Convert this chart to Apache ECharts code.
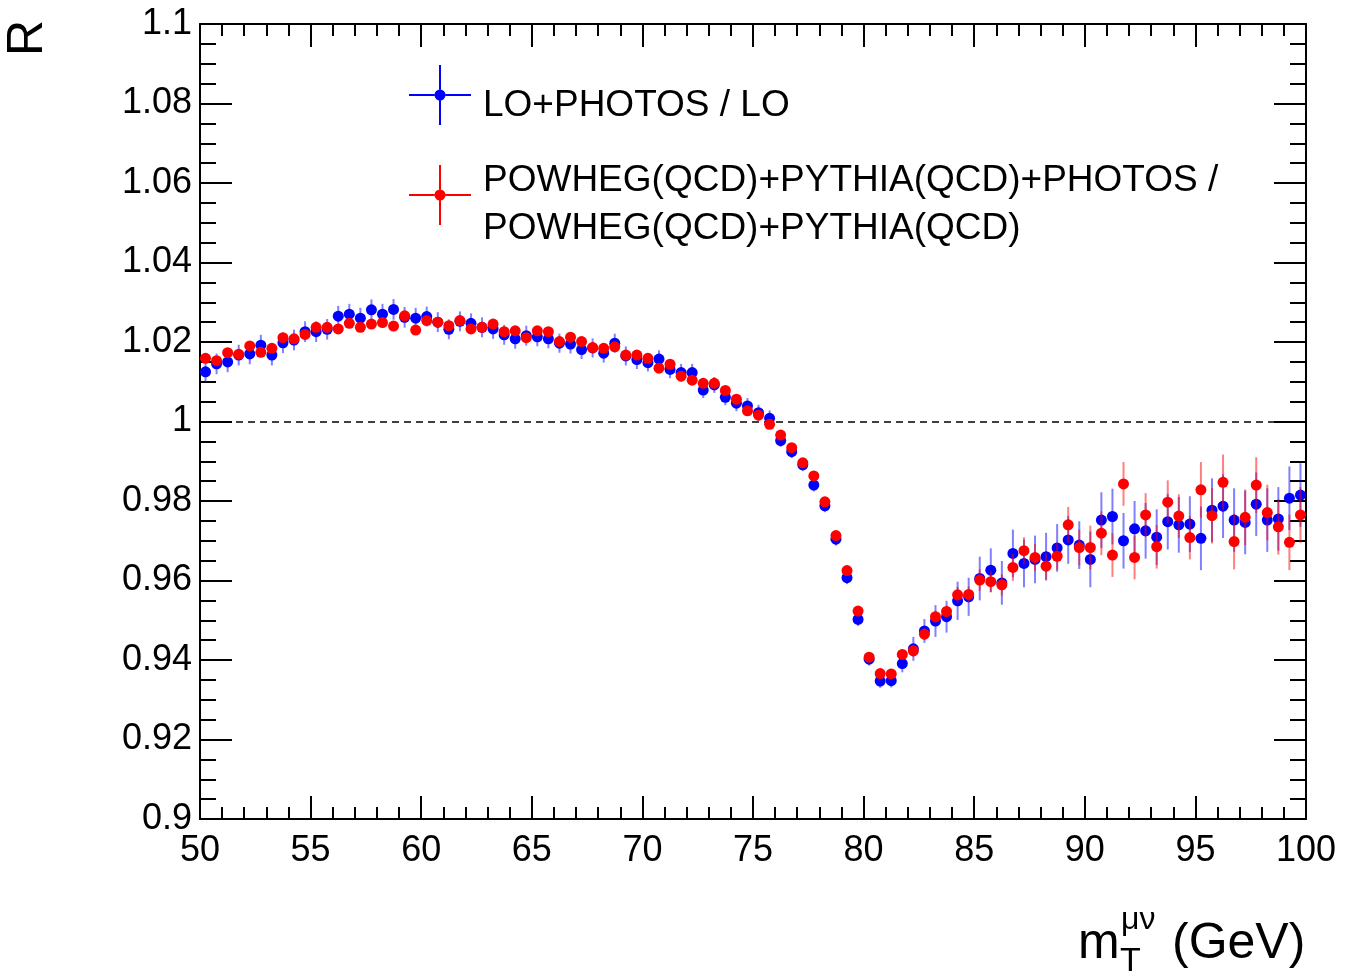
<!DOCTYPE html>
<html>
<head>
<meta charset="utf-8">
<script src="https://cdn.jsdelivr.net/npm/echarts@6/dist/echarts.min.js"></script>
<style>
  html, body { margin: 0; padding: 0; background: #fff; }
  #chart { width: 1345px; height: 972px; }
</style>
</head>
<body>
<div id="chart"></div>
<script>
// bin centres of m_T (GeV), 0.5 GeV bins
var mT = [
  50.25, 50.75, 51.25, 51.75, 52.25, 52.75, 53.25, 53.75, 54.25, 54.75,
  55.25, 55.75, 56.25, 56.75, 57.25, 57.75, 58.25, 58.75, 59.25, 59.75,
  60.25, 60.75, 61.25, 61.75, 62.25, 62.75, 63.25, 63.75, 64.25, 64.75,
  65.25, 65.75, 66.25, 66.75, 67.25, 67.75, 68.25, 68.75, 69.25, 69.75,
  70.25, 70.75, 71.25, 71.75, 72.25, 72.75, 73.25, 73.75, 74.25, 74.75,
  75.25, 75.75, 76.25, 76.75, 77.25, 77.75, 78.25, 78.75, 79.25, 79.75,
  80.25, 80.75, 81.25, 81.75, 82.25, 82.75, 83.25, 83.75, 84.25, 84.75,
  85.25, 85.75, 86.25, 86.75, 87.25, 87.75, 88.25, 88.75, 89.25, 89.75,
  90.25, 90.75, 91.25, 91.75, 92.25, 92.75, 93.25, 93.75, 94.25, 94.75,
  95.25, 95.75, 96.25, 96.75, 97.25, 97.75, 98.25, 98.75, 99.25, 99.75
];

// LO+PHOTOS / LO
var loRatio = [
  1.0125, 1.0145, 1.0150, 1.0167, 1.0170, 1.0192, 1.0167, 1.0198, 1.0205, 1.0226,
  1.0226, 1.0232, 1.0265, 1.0270, 1.0260, 1.0281, 1.0270, 1.0282, 1.0262, 1.0260,
  1.0264, 1.0250, 1.0232, 1.0252, 1.0247, 1.0237, 1.0233, 1.0218, 1.0208, 1.0216,
  1.0213, 1.0208, 1.0197, 1.0195, 1.0181, 1.0185, 1.0172, 1.0197, 1.0165, 1.0156,
  1.0148, 1.0157, 1.0131, 1.0123, 1.0123, 1.0079, 1.0092, 1.0061, 1.0046, 1.0039,
  1.0022, 1.0008, 0.9952, 0.9924, 0.9891, 0.9840, 0.9788, 0.9704, 0.9607, 0.9502,
  0.9402, 0.9347, 0.9348, 0.9391, 0.9428, 0.9473, 0.9498, 0.9509, 0.9549, 0.9559,
  0.9605, 0.9626, 0.9594, 0.9668, 0.9643, 0.9653, 0.9660, 0.9682, 0.9702, 0.9689,
  0.9653, 0.9752, 0.9761, 0.9700, 0.9730, 0.9725, 0.9709, 0.9748, 0.9740, 0.9742,
  0.9706, 0.9777, 0.9787, 0.9752, 0.9746, 0.9792, 0.9752, 0.9755, 0.9807, 0.9815
];
var loErr = [
  0.0026, 0.0026, 0.0026, 0.0026, 0.0026, 0.0026, 0.0026, 0.0026, 0.0026, 0.0026,
  0.0026, 0.0026, 0.0026, 0.0026, 0.0026, 0.0026, 0.0026, 0.0026, 0.0026, 0.0026,
  0.0025, 0.0025, 0.0025, 0.0025, 0.0025, 0.0025, 0.0025, 0.0025, 0.0025, 0.0025,
  0.0024, 0.0024, 0.0024, 0.0024, 0.0024, 0.0024, 0.0024, 0.0024, 0.0024, 0.0024,
  0.0022, 0.0022, 0.0022, 0.0022, 0.0022, 0.0020, 0.0020, 0.0020, 0.0020, 0.0020,
  0.0020, 0.0020, 0.0016, 0.0016, 0.0016, 0.0016, 0.0016, 0.0016, 0.0016, 0.0016,
  0.0016, 0.0017, 0.0017, 0.0022, 0.0030, 0.0030, 0.0040, 0.0040, 0.0048, 0.0048,
  0.0055, 0.0055, 0.0055, 0.0060, 0.0060, 0.0060, 0.0060, 0.0060, 0.0060, 0.0060,
  0.0070, 0.0070, 0.0070, 0.0070, 0.0070, 0.0070, 0.0070, 0.0070, 0.0070, 0.0070,
  0.0080, 0.0080, 0.0080, 0.0080, 0.0080, 0.0080, 0.0080, 0.0080, 0.0080, 0.0080
];

// POWHEG(QCD)+PYTHIA(QCD)+PHOTOS / POWHEG(QCD)+PYTHIA(QCD)
var pwgRatio = [
  1.0159, 1.0153, 1.0173, 1.0169, 1.0190, 1.0174, 1.0184, 1.0211, 1.0208, 1.0219,
  1.0237, 1.0237, 1.0233, 1.0247, 1.0237, 1.0245, 1.0249, 1.0240, 1.0266, 1.0230,
  1.0254, 1.0250, 1.0241, 1.0254, 1.0233, 1.0237, 1.0245, 1.0226, 1.0228, 1.0211,
  1.0228, 1.0226, 1.0201, 1.0212, 1.0201, 1.0186, 1.0184, 1.0188, 1.0167, 1.0167,
  1.0159, 1.0134, 1.0144, 1.0114, 1.0104, 1.0096, 1.0096, 1.0078, 1.0056, 1.0027,
  1.0016, 0.9993, 0.9966, 0.9934, 0.9896, 0.9863, 0.9798, 0.9713, 0.9625, 0.9523,
  0.9407, 0.9366, 0.9365, 0.9414, 0.9423, 0.9465, 0.9509, 0.9522, 0.9564, 0.9565,
  0.9601, 0.9597, 0.9589, 0.9633, 0.9675, 0.9658, 0.9636, 0.9661, 0.9740, 0.9683,
  0.9683, 0.9719, 0.9664, 0.9843, 0.9658, 0.9765, 0.9685, 0.9797, 0.9762, 0.9708,
  0.9828, 0.9763, 0.9847, 0.9698, 0.9759, 0.9840, 0.9771, 0.9735, 0.9696, 0.9765
];
var pwgErr = [
  0.0010, 0.0010, 0.0010, 0.0010, 0.0010, 0.0010, 0.0010, 0.0010, 0.0010, 0.0010,
  0.0010, 0.0010, 0.0010, 0.0010, 0.0010, 0.0010, 0.0010, 0.0010, 0.0010, 0.0010,
  0.0010, 0.0010, 0.0010, 0.0010, 0.0010, 0.0010, 0.0010, 0.0010, 0.0010, 0.0010,
  0.0010, 0.0010, 0.0010, 0.0010, 0.0010, 0.0010, 0.0010, 0.0010, 0.0010, 0.0010,
  0.0010, 0.0010, 0.0010, 0.0010, 0.0010, 0.0010, 0.0010, 0.0010, 0.0010, 0.0010,
  0.0010, 0.0010, 0.0010, 0.0010, 0.0010, 0.0010, 0.0010, 0.0010, 0.0010, 0.0010,
  0.0012, 0.0012, 0.0012, 0.0012, 0.0015, 0.0015, 0.0015, 0.0015, 0.0020, 0.0020,
  0.0027, 0.0027, 0.0027, 0.0034, 0.0034, 0.0034, 0.0034, 0.0034, 0.0045, 0.0045,
  0.0055, 0.0055, 0.0055, 0.0055, 0.0055, 0.0055, 0.0055, 0.0055, 0.0055, 0.0055,
  0.0070, 0.0070, 0.0070, 0.0070, 0.0070, 0.0070, 0.0070, 0.0070, 0.0070, 0.0070
];

var referenceLevel = 1;

var loName = 'LO+PHOTOS / LO';
var pwgName = 'POWHEG(QCD)+PYTHIA(QCD)+PHOTOS / POWHEG(QCD)+PYTHIA(QCD)';

var FONT = '"Liberation Sans", Arial, Helvetica, sans-serif';

function points(vals) {
  return mT.map(function (x, i) { return [x, vals[i]]; });
}
function withErr(vals, errs) {
  return mT.map(function (x, i) { return [x, vals[i], errs[i]]; });
}
function errBars(color) {
  return function (params, api) {
    var x = api.value(0), y = api.value(1), e = api.value(2);
    var hi = api.coord([x, y + e]);
    var lo = api.coord([x, y - e]);
    return {
      type: 'line',
      shape: { x1: hi[0], y1: hi[1], x2: lo[0], y2: lo[1] },
      style: { stroke: color, lineWidth: 2 }
    };
  };
}

// marker with error cross, root style
var crossIcon = 'path://M0,29L25.5,29L25.5,31L0,31Z' +
  'M36.5,29L62,29L62,31L36.5,31Z' +
  'M30,0L32,0L32,24.5L30,24.5Z' +
  'M30,35.5L32,35.5L32,60L30,60Z' +
  'M25.5,30A5.5,5.5,0,1,1,36.5,30A5.5,5.5,0,1,1,25.5,30Z';

function xAxisCfg(pos) {
  return {
    type: 'value', position: pos, min: 50, max: 100, interval: 5,
    axisLine: { show: true, onZero: false, lineStyle: { color: '#000', width: 2 } },
    axisTick: { show: true, inside: true, length: 23, lineStyle: { color: '#000', width: 2 } },
    minorTick: { show: true, splitNumber: 5, length: 12, lineStyle: { color: '#000', width: 2 } },
    splitLine: { show: false },
    axisLabel: {
      show: pos === 'bottom', fontSize: 36, color: '#000', fontFamily: FONT, margin: 14,
      showMinLabel: true, showMaxLabel: true
    }
  };
}
function yAxisCfg(pos) {
  return {
    type: 'value', position: pos, min: 0.9, max: 1.1, interval: 0.02,
    axisLine: { show: true, onZero: false, lineStyle: { color: '#000', width: 2 } },
    axisTick: { show: true, inside: true, length: 32, lineStyle: { color: '#000', width: 2 } },
    minorTick: { show: true, splitNumber: 4, length: 16, lineStyle: { color: '#000', width: 2 } },
    splitLine: { show: false },
    axisLabel: {
      show: pos === 'left', fontSize: 36, color: '#000', fontFamily: FONT, margin: 8,
      showMinLabel: true, showMaxLabel: true,
      formatter: function (v) { return String(+v.toFixed(3)); }
    }
  };
}

var legendBase = {
  orient: 'vertical', padding: 0, itemWidth: 62, itemHeight: 60,
  selectedMode: false
};
var legendText = { fontSize: 37, color: '#000', fontFamily: FONT, padding: [0, 0, 0, 7] };

var chart = echarts.init(document.getElementById('chart'), null, { renderer: 'canvas' });
chart.setOption({
  animation: false,
  backgroundColor: '#fff',
  textStyle: { fontFamily: FONT },
  grid: { left: 200, right: 39, top: 24, bottom: 153, containLabel: false },
  xAxis: [xAxisCfg('bottom'), xAxisCfg('top')],
  yAxis: [yAxisCfg('left'), yAxisCfg('right')],
  legend: [
    Object.assign({}, legendBase, {
      left: 409, top: 65,
      data: [{ name: loName, icon: crossIcon }],
      formatter: function (n) { return '{s| }\n{t|' + n + '}'; },
      textStyle: Object.assign({}, legendText, {
        rich: {
          s: { fontSize: 10, lineHeight: 22 },
          t: { fontSize: 37, lineHeight: 40, color: '#000', fontFamily: FONT }
        }
      })
    }),
    Object.assign({}, legendBase, {
      left: 409, top: 142,
      data: [{ name: pwgName, icon: crossIcon }],
      formatter: function (n) {
        var parts = n.split(' / ');
        return '{s| }\n{t|' + parts[0] + ' /}\n{t|' + parts[1] + '}';
      },
      textStyle: Object.assign({}, legendText, {
        rich: {
          s: { fontSize: 10, lineHeight: 20 },
          t: { fontSize: 37, lineHeight: 48, color: '#000', fontFamily: FONT }
        }
      })
    })
  ],
  graphic: [
    { type: 'text', x: 28, y: 38, rotation: Math.PI / 2,
      style: { text: 'R', font: '50px ' + FONT, fill: '#000', textAlign: 'center', textVerticalAlign: 'middle' } },
    { type: 'text', x: 1078, y: 944,
      style: { text: 'm', font: '50px ' + FONT, fill: '#000', textAlign: 'left', textVerticalAlign: 'middle' } },
    { type: 'text', x: 1121, y: 920,
      style: { text: 'μν', font: '32px ' + FONT, fill: '#000', textAlign: 'left', textVerticalAlign: 'middle' } },
    { type: 'text', x: 1120, y: 962,
      style: { text: 'T', font: '34px ' + FONT, fill: '#000', textAlign: 'left', textVerticalAlign: 'middle' } },
    { type: 'text', x: 1172, y: 944,
      style: { text: '(GeV)', font: '50px ' + FONT, fill: '#000', textAlign: 'left', textVerticalAlign: 'middle' } }
  ],
  series: [
    {
      type: 'custom', name: 'loErr', z: 2, silent: true,
      renderItem: errBars('rgba(0,0,255,0.5)'),
      encode: { x: 0, y: 1 },
      data: withErr(loRatio, loErr)
    },
    {
      type: 'scatter', name: loName, z: 3,
      symbol: 'circle', symbolSize: 11,
      itemStyle: { color: '#0000ff', opacity: 1 },
      data: points(loRatio),
      markLine: {
        silent: true, symbol: ['none', 'none'], label: { show: false },
        lineStyle: { color: '#000', type: [7, 5], width: 1.5 },
        data: [{ yAxis: referenceLevel }]
      }
    },
    {
      type: 'custom', name: 'pwgErr', z: 4, silent: true,
      renderItem: errBars('rgba(255,0,0,0.5)'),
      encode: { x: 0, y: 1 },
      data: withErr(pwgRatio, pwgErr)
    },
    {
      type: 'scatter', name: pwgName, z: 5,
      symbol: 'circle', symbolSize: 11,
      itemStyle: { color: '#ff0000', opacity: 1 },
      data: points(pwgRatio)
    }
  ]
});
window.addEventListener('resize', function () { chart.resize(); });
</script>
</body>
</html>
